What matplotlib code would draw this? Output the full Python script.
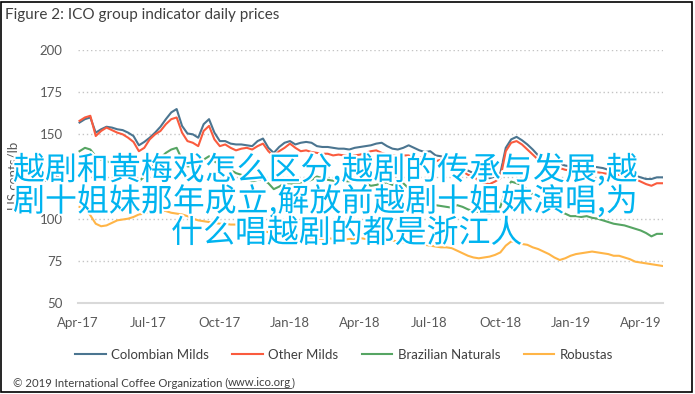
import matplotlib
matplotlib.use('Agg')
import matplotlib.pyplot as plt
import matplotlib.dates as mdates
import matplotlib.patheffects as pe
from matplotlib.patches import Rectangle
from matplotlib.lines import Line2D
import pandas as pd

plt.rcParams['font.family'] = ['Lato', 'DejaVu Sans']

# weekly ICO indicator prices, US cents/lb
weeks = pd.date_range('2017-04-03', periods=109, freq='7D')

colombian_milds = [
    157, 159, 160, 151, 153, 154.5, 154, 153, 152.5, 151,
    149, 143.5, 145.5, 148, 151, 154.5, 159, 163, 165, 155,
    150.5, 150, 148, 156, 159, 151, 146, 146, 144.5, 144,
    144, 143.5, 143, 146, 147.5, 142, 139, 142.5, 145, 146,
    144, 145, 145.5, 145, 143, 142.5, 142.5, 142, 141.5, 141.5,
    141, 142, 142.5, 143, 143.5, 144.5, 145, 143, 141.5, 141,
    142, 143.5, 142, 140.5, 139.5, 140, 137.5, 137, 135.5, 134.5,
    132, 130, 128.5, 127, 125.5, 124.5, 124, 125, 127, 142,
    147, 148.5, 146.5, 144, 141, 137.5, 135, 134, 133, 132.5,
    131.5, 131, 130.5, 131, 130.5, 131, 130.5, 130, 129, 128.5,
    128, 127.5, 126.5, 125.5, 124.5, 123.5, 123.5, 124.5, 124.5]

other_milds = [
    158, 160, 161, 149, 152, 154, 152.5, 151, 150, 148,
    145.5, 140, 142, 147, 150, 152, 156, 159, 160, 151,
    146, 145, 143, 152, 155, 147, 143, 144, 142, 140.5,
    141.5, 142, 141, 143, 144.5, 140, 137, 140, 142, 144.5,
    142, 140, 140.5, 139.5, 139, 138.5, 138.5, 137.5, 138, 137.5,
    137, 137.5, 138, 139, 140, 140.5, 139, 138, 137.5, 137,
    137.5, 137.5, 136, 136.5, 135.5, 136, 134, 135, 133, 133.5,
    130, 128, 126, 125, 122.5, 121, 120.5, 122, 124, 140,
    145, 146, 144, 141, 138, 135, 133, 132, 131, 130,
    129, 128.5, 128, 128.5, 127.5, 128, 127.5, 127, 126.5, 126.5,
    126, 125, 124.5, 123.5, 122, 120.5, 119.5, 121, 121]

brazilian_naturals = [
    140, 142, 141, 137, 135, 134, 133, 132, 133, 131,
    127, 122, 125, 130, 134, 136, 139, 141, 142, 135,
    131, 131, 130, 135, 137, 134, 132, 131, 129, 127,
    126, 124, 122, 123, 123, 121, 117.5, 119, 121, 121,
    120.5, 121.5, 122, 123, 125, 124, 123, 122.5, 122, 122.5,
    122, 123, 123.5, 121, 119.5, 120, 121, 121.5, 120, 121,
    121, 118, 115.5, 114, 111.5, 109.5, 108, 107.5, 107, 106.5,
    108, 107, 105.5, 104.5, 104, 103.5, 103, 104, 107, 117,
    122, 121, 120, 117, 114.5, 112, 109.5, 108, 105.5, 104,
    103, 101.5, 101.5, 101, 101.5, 100.5, 100, 99, 98, 97,
    96.5, 96, 95, 94, 93, 91.5, 89.5, 91, 91]

robustas = [
    107, 106, 102, 97, 95.5, 96, 97.5, 99, 99.5, 100,
    101, 102.5, 103, 104.5, 104.5, 105, 104.5, 103.5, 103, 102.5,
    101.5, 100, 99, 98.5, 98, 97.5, 97, 97, 96.5, 96.5,
    96, 95.5, 95, 93.5, 92.5, 92, 92, 91.5, 90.5, 89.5,
    89, 89, 88.5, 88.5, 88, 88, 88.5, 88, 88, 87.5,
    88, 88, 88.5, 88, 87.5, 87.5, 87, 86.5, 87, 86.5,
    86, 86.5, 86, 85.5, 84.5, 84, 83.5, 83, 83, 82.5,
    81, 79.5, 78, 77, 76.5, 77, 77.5, 78.5, 80, 84,
    86.5, 86, 85, 84.5, 83, 82, 80.5, 79, 77, 75.5,
    76.5, 78, 79, 79.5, 80, 80.5, 80, 79.5, 79, 78,
    78, 77, 76, 74.5, 74, 73.5, 73, 72.5, 72]

series_names = ['Colombian Milds', 'Other Milds', 'Brazilian Naturals', 'Robustas']
series_colors = ['#4b7590', '#fa5b3e', '#56a563', '#ffb547']

tick_dates = pd.date_range('2017-04-01', '2019-04-01', freq='3MS')
y_ticks = [50, 75, 100, 125, 150, 175, 200]

overlay_lines = ['越剧和黄梅戏怎么区分,越剧的传承与发展,越',
                 '剧十姐妹那年成立,解放前越剧十姐妹演唱,为',
                 '什么唱越剧的都是浙江人']

W, H = 695, 394
fig = plt.figure(figsize=(W / 100, H / 100), dpi=100)
ax = fig.add_axes([78 / W, 91 / H, 585 / W, 253 / H])

for vals, name, col in zip([colombian_milds, other_milds, brazilian_naturals, robustas],
                           series_names, series_colors):
    ax.plot(weeks, vals, color=col, lw=1.5, label=name)

ax.set_xlim(pd.Timestamp('2017-04-01'), pd.Timestamp('2019-04-30'))
ax.set_ylim(50, 200)
ax.set_yticks(y_ticks)
ax.set_xticks(tick_dates)
ax.xaxis.set_major_formatter(mdates.DateFormatter('%b-%y'))
ax.tick_params(length=0, labelsize=9.5, labelcolor='#595959')
ax.tick_params(axis='y', pad=11)
ax.tick_params(axis='x', pad=10)
for s in ['top', 'right', 'left']:
    ax.spines[s].set_visible(False)
ax.spines['bottom'].set_color('#d9d9d9')
ax.spines['bottom'].set_linewidth(1.5)
ax.grid(axis='y', ls=(0, (1, 2)), color='#c4c4c4', lw=1)
ax.set_axisbelow(True)

fig.legend(loc='center', bbox_to_anchor=(0.495, 0.099), ncol=4, frameon=False,
           fontsize=9.5, handlelength=2.3, handletextpad=0.4, columnspacing=1.8,
           labelcolor='#404040')

fig.text(5 / W, 1 - 15 / H, 'Figure 2: ICO group indicator daily prices',
         fontsize=11, color='#404040', va='center')
fig.text(14 / W, 1 - 176 / H, 'US cents/lb', rotation=90, ha='center', va='center',
         fontsize=9.5, color='#595959')

# footer with underlined url
foot = fig.text(13 / W, 1 - 383 / H, '© 2019 International Coffee Organization (',
                fontsize=8.2, color='#404040', va='center')
fig.canvas.draw()
bb = foot.get_window_extent()
url = fig.text(bb.x1 / W, 1 - 383 / H, 'www.ico.org', fontsize=8.2, color='#404040', va='center')
fig.canvas.draw()
ub = url.get_window_extent()
fig.text(ub.x1 / W, 1 - 383 / H, ')', fontsize=8.2, color='#404040', va='center')
fig.add_artist(Line2D([ub.x0 / W, ub.x1 / W], [(ub.y0 + 1) / H] * 2, color='#404040', lw=0.6))

# overlaid caption text
for line, xc, yc in zip(overlay_lines, [326, 326, 347], [170, 201.5, 233.5]):
    fig.text(xc / W, 1 - yc / H, line, ha='center', va='center', fontsize=23,
             color='#00b4f0', family=['Noto Sans CJK SC', 'DejaVu Sans'],
             path_effects=[pe.withStroke(linewidth=3, foreground='white')])

fig.patches.append(Rectangle((1 / W, 2 / H), 691 / W, 390 / H, transform=fig.transFigure,
                             fill=False, edgecolor='black', lw=1.2))

fig.savefig('out.png', dpi=100)
